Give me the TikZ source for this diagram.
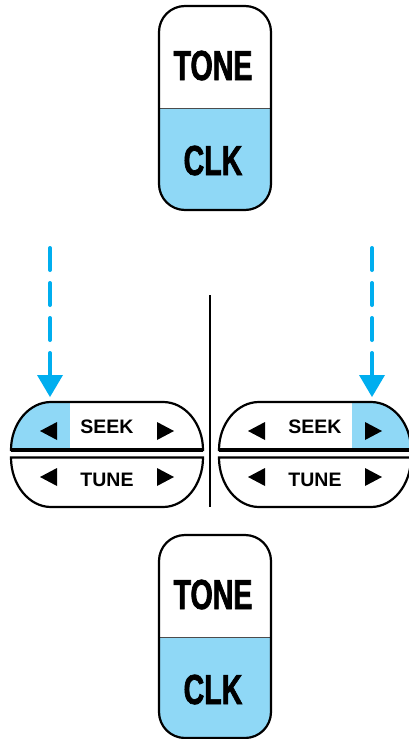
\documentclass[tikz,border=0pt]{standalone}
\usepackage{fontspec}
\setmainfont{Liberation Sans}
\newfontfamily\condfont[FakeStretch=0.68,FakeBold=1.6]{Liberation Sans}
\usetikzlibrary{arrows.meta}
\definecolor{keyblue}{RGB}{143,216,246}
\definecolor{arrowblue}{RGB}{0,174,239}
\tikzset{
  outline/.style={draw=black,line width=2.2pt},
  bigtext/.style={font=\condfont\bfseries\fontsize{42}{42}\selectfont,anchor=base,inner sep=0pt},
  smalltext/.style={font=\bfseries\fontsize{19.5}{19.5}\selectfont,anchor=base,inner sep=0pt},
  tri/.style={fill=black},
  dasharrow/.style={draw=arrowblue,line width=4pt,line cap=round,dash pattern=on 22pt off 13pt,
    -{Triangle[width=26pt,length=22pt,line width=0pt,round=false]}},
}
\begin{document}
\begin{tikzpicture}[x=1pt,y=-1pt]
\useasboundingbox (0,0) rectangle (408,739);
\fill[white] (0,0) rectangle (408,739);

% ---- pills ----
\foreach \top/\div/\bot/\nm in {6/108/210/a,535/637/738/b}{
  \begin{scope}
    \clip[rounded corners=26pt] (159,\top) rectangle (271,\bot);
    \fill[white] (159,\top) rectangle (271,\div);
    \fill[keyblue] (159,\div) rectangle (271,\bot);
  \end{scope}
  \draw[line width=1pt,black!70] (159,\div) -- (271,\div);
  \draw[outline,rounded corners=26pt] (159,\top) rectangle (271,\bot);
}
\node[bigtext] (tonea) at (213,80) {TONE};
\node[bigtext] (clka) at (213,175) {CLK};
\node[bigtext] (toneb) at (213,609) {TONE};
\node[bigtext] (clkb) at (213,704) {CLK};

% ---- divider ----
\coordinate (v1) at (210,295);
\coordinate (v2) at (210,507);
\draw[line width=1.8pt] (v1) -- (v2);

% ---- button groups ----
\foreach \L/\bx/\nm in {11/0/l,219/1/r}{
  \pgfmathsetmacro{\R}{\L+192}
  % SEEK shape
  \def\seekpath{(\L,450) .. controls (\L,423.5) and (\L+18,402) .. (\L+40,402) -- (\R-40,402) .. controls (\R-18,402) and (\R,423.5) .. (\R,450) -- cycle}
  \fill[white] \seekpath;
  \begin{scope}
    \clip \seekpath;
    \ifnum\bx=0
      \fill[keyblue] (\L-2,398) rectangle (\L+59,452);
    \else
      \fill[keyblue] (\L+133,398) rectangle (\R+2,452);
    \fi
  \end{scope}
  \draw[outline] \seekpath;
  \draw[line width=3.6pt] (\L,450) -- (\R,450);
  % TUNE shape
  \draw[outline,fill=white] (\L,457.5) -- (\R,457.5) .. controls (\R,484.8) and (\R-18,507) .. (\R-40,507) -- (\L+40,507) .. controls (\L+18,507) and (\L,484.8) .. (\L,457.5) -- cycle;
  % triangles
  \fill[tri] (\L+29,431) -- (\L+46,422) -- (\L+46,440) -- cycle;
  \fill[tri] (\L+163,431) -- (\L+146,422) -- (\L+146,440) -- cycle;
  \fill[tri] (\L+29,477) -- (\L+46,468) -- (\L+46,486) -- cycle;
  \fill[tri] (\L+163,477) -- (\L+146,468) -- (\L+146,486) -- cycle;
  \node[smalltext] (seek\nm) at (\L+96,433) {SEEK};
  \node[smalltext] (tune\nm) at (\L+96,486) {TUNE};
}

% ---- arrows ----
\coordinate (al1) at (50,248);
\coordinate (al2) at (50,397);
\coordinate (ar1) at (372,248);
\coordinate (ar2) at (372,397);
\draw[dasharrow] (al1) -- (al2);
\draw[dasharrow] (ar1) -- (ar2);
\end{tikzpicture}
\end{document}
